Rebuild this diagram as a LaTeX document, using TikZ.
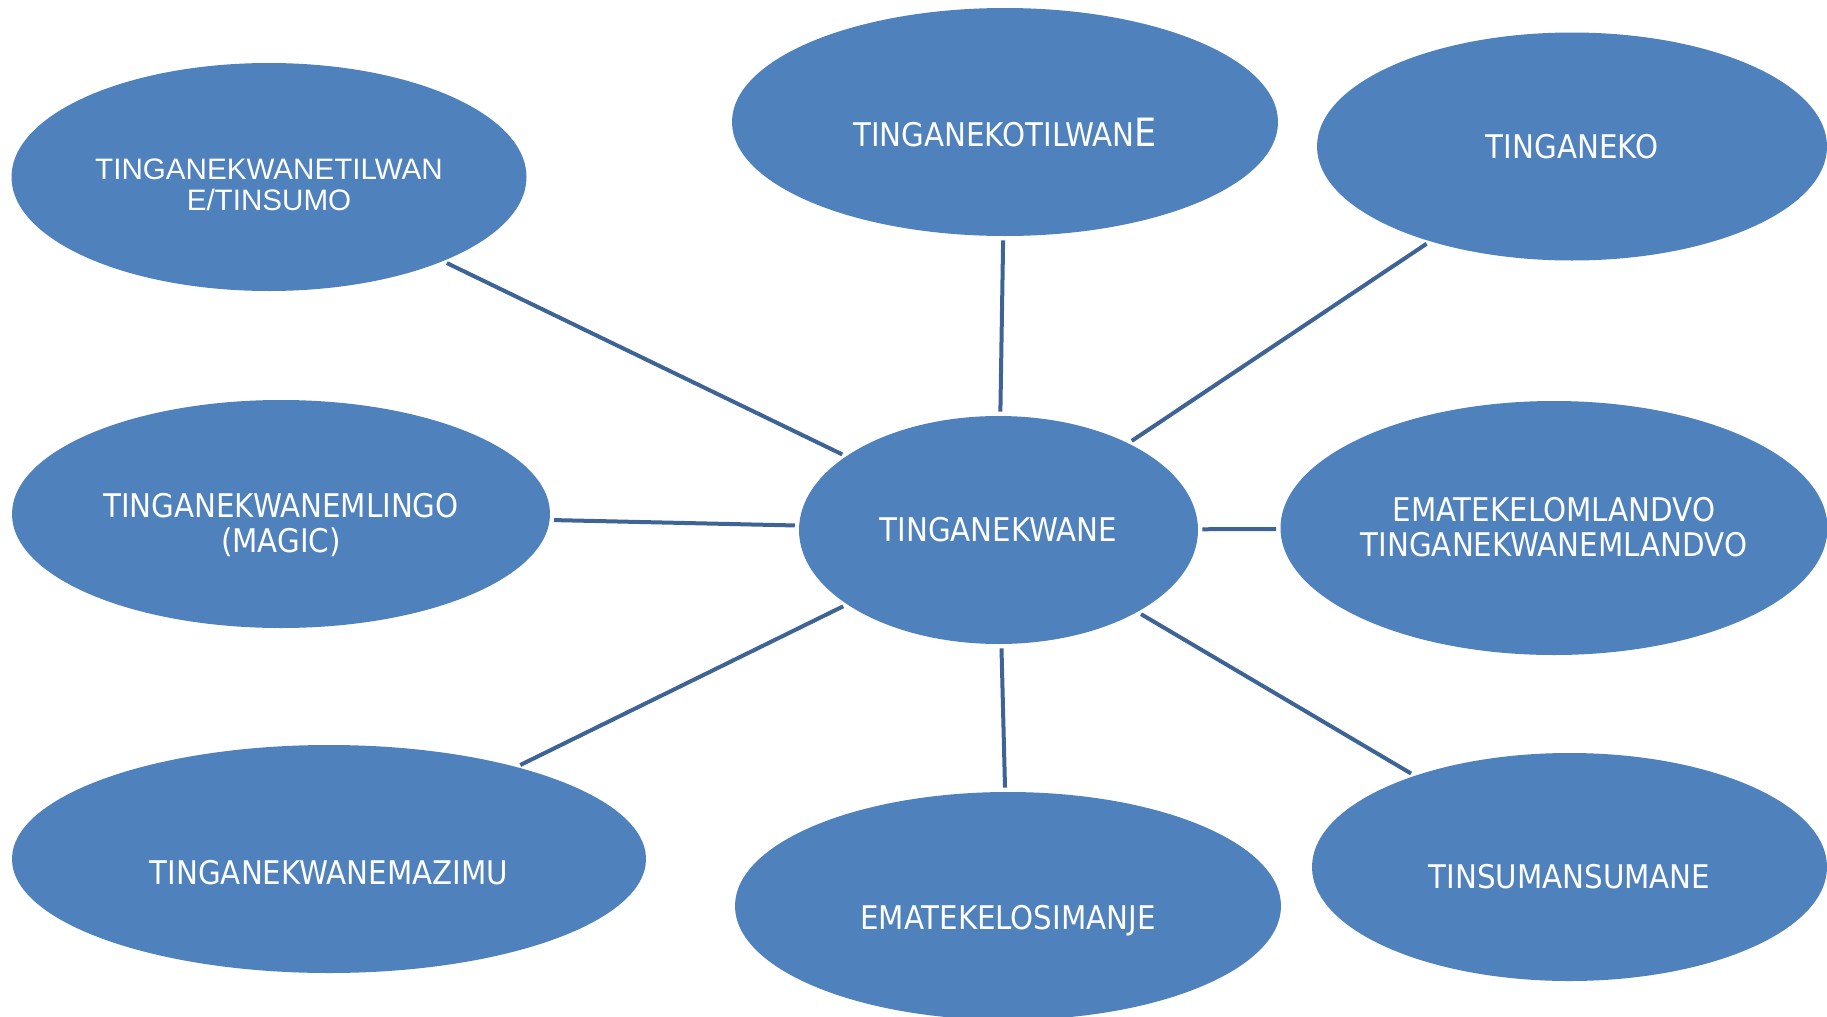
\documentclass[tikz,border=0pt]{standalone}
\usepackage{fontspec}
\setmainfont{DejaVu Sans Condensed}
\newfontfamily\arialfont{Liberation Sans}
\usetikzlibrary{shapes.geometric}
\definecolor{bubble}{HTML}{4F81BD}
\definecolor{spoke}{HTML}{3E6496}
% label text pushed down a little inside its ellipse
\newcommand{\sunk}[2]{\raisebox{-#1}[\height][\depth]{\begin{tabular}{@{}c@{}}#2\end{tabular}}}

\begin{document}
\begin{tikzpicture}[x=0.5pt, y=-0.5pt,
            every node/.style={ellipse, fill=bubble, text=white, inner sep=0pt,
                               font=\fontsize{16.3}{17}\selectfont, minimum height=114pt},
            spokeline/.style={draw=spoke, line width=2pt, shorten <=2pt, shorten >=2pt}]
        \path[use as bounding box, clip] (0,0) rectangle (1827,1017);

        \node (hub) at (998.5,530) [minimum width=199.5pt] {TINGANEKWANE};

        \node (tl) at (269,177) [minimum width=257.5pt,
              font=\arialfont\fontsize{14.8}{15.3}\selectfont] {\sunk{6pt}{TINGANEKWANETILWAN\\E/TINSUMO}};
        \node (tm) at (1005,122) [minimum width=273pt]
              {\sunk{7.5pt}{TINGANEKOTILWAN{\fontsize{19.5}{19.5}\selectfont E}}};
        \node (tr) at (1572,146.5) [minimum width=255pt] {TINGANEKO};
        \node (ml) at (281,514) [minimum width=269pt] {\sunk{7pt}{TINGANEKWANEMLINGO\\(MAGIC)}};
        \node (mr) at (1554,528) [minimum width=273.5pt, minimum height=127pt]
              {\sunk{2pt}{EMATEKELOMLANDVO\\TINGANEKWANEMLANDVO}};
        \node (bl) at (329,859) [minimum width=317pt] {\sunk{9.3pt}{TINGANEKWANEMAZIMU}};
        \node (bm) at (1008,906) [minimum width=273pt] {\sunk{8.2pt}{EMATEKELOSIMANJE}};
        \node (br) at (1569.5,867) [minimum width=257.5pt] {\sunk{7.3pt}{TINSUMANSUMANE}};

        % spokes from the hub
        \foreach \n in {tl,tm,tr,ml,mr,bl,bm,br}
            \draw[spokeline] (hub) -- (\n);
\end{tikzpicture}
\end{document}
